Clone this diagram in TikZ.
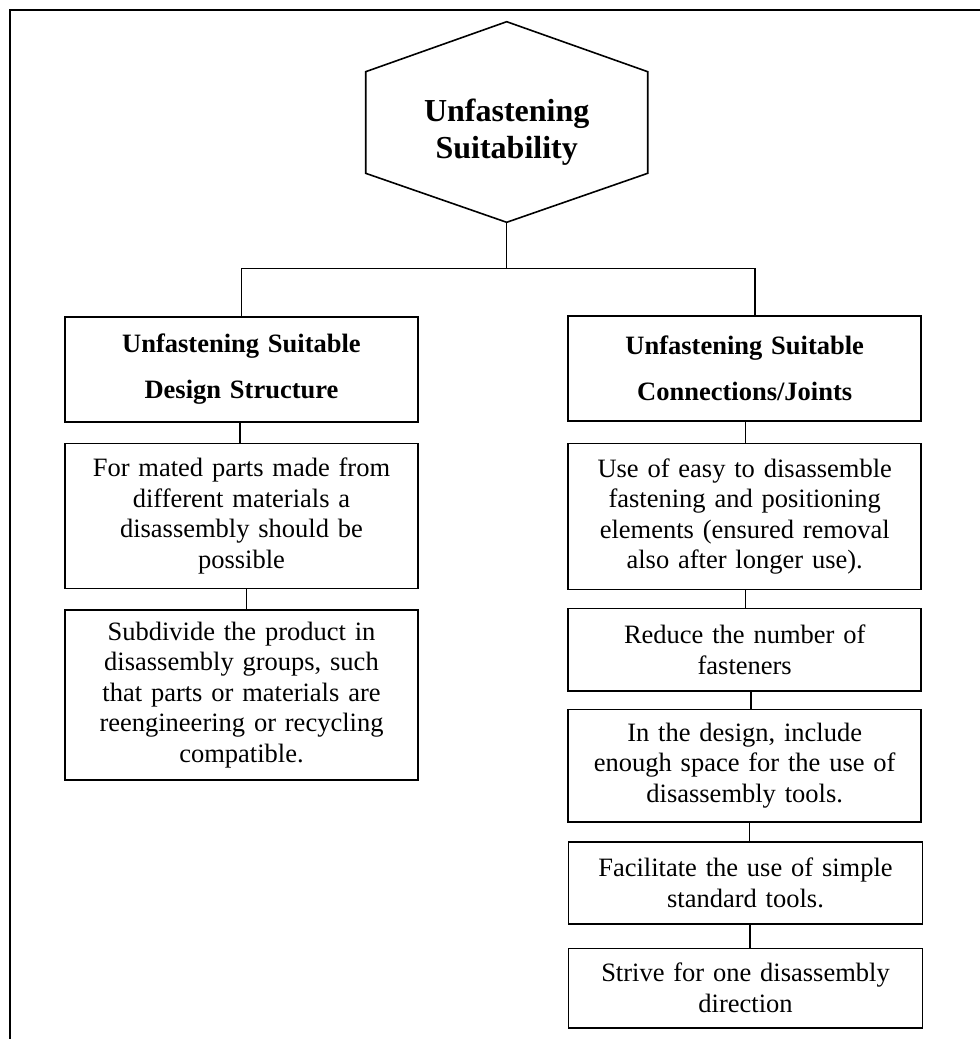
\documentclass[tikz,border=0pt]{standalone}
\usepackage{fontspec}
\setmainfont{Liberation Serif}
\begin{document}
\begin{tikzpicture}[x=1pt,y=-1pt,
  frame/.style={line width=2pt},
  boxn/.style={draw,line width=1.6pt,inner sep=0pt,minimum width=353pt,text width=340pt,align=center,
     font=\fontsize{26.5}{30.5}\selectfont},
  titlen/.style={boxn,font=\fontsize{26.5}{46.7}\selectfont\bfseries},
  conn/.style={line width=1.3pt}]
\useasboundingbox (0,0) rectangle (980,1039);
\clip (0,0) rectangle (980,1039);
\draw[frame] (9.5,1060) -- (9.5,9.5) -- (1000,9.5);
% hexagon
\coordinate (h1) at (506.7,21.7);
\coordinate (h2) at (647.7,71.7);
\coordinate (h3) at (647.7,173.3);
\coordinate (h4) at (506.7,222.3);
\coordinate (h5) at (365.7,173.3);
\coordinate (h6) at (365.7,71.7);
\draw[line width=1.6pt,line join=miter] (h1) -- (h2) -- (h3) -- (h4) -- (h5) -- (h6) -- cycle;
\node[align=center,font=\fontsize{32}{37}\selectfont\bfseries] (hex) at (506.7,132) {Unfastening\\Suitability};
% boxes
\node[titlen,minimum height=105pt] (L1) at (241.5,369.2) {Unfastening Suitable\\Design Structure};
\node[boxn,minimum height=145pt] (L2) at (241.5,515.8) {For mated parts made from\\different materials a\\disassembly should be\\possible};
\node[boxn,minimum height=170pt] (L3) at (241.5,695) {Subdivide the product in\\disassembly groups, such\\that parts or materials are\\reengineering or recycling\\compatible.};
\node[titlen,minimum height=105.3pt] (R1) at (744.7,368.4) {Unfastening Suitable\\Connections/Joints};
\node[boxn,minimum height=146pt] (R2) at (744.7,516.3) {Use of easy to disassemble\\fastening and positioning\\elements (ensured removal\\also after longer use).};
\node[boxn,minimum height=82.7pt] (R3) at (744.7,649.7) {Reduce the number of\\fasteners};
\node[boxn,minimum height=112.4pt] (R4) at (744.7,765.5) {In the design, include\\enough space for the use of\\disassembly tools.};
\node[boxn,minimum width=354pt,minimum height=82.3pt] (R5) at (745.5,882.9) {Facilitate the use of simple\\standard tools.};
\node[boxn,minimum width=354pt,minimum height=79.4pt] (R6) at (745.5,988) {Strive for one disassembly\\direction};
% connectors
\coordinate (bar) at (506.7,268.5);
\draw[conn] (h4) -- (bar);
\draw[conn] (L1.north -| 241.7,0) -- (241.7,268.5) -- (755,268.5) -- (R1.north -| 755,0);
\draw[conn] (L1.south -| 240,0) -- (L2.north -| 240,0);
\draw[conn] (L2.south -| 246.7,0) -- (L3.north -| 246.7,0);
\draw[conn] (R1.south -| 745.7,0) -- (R2.north -| 745.7,0);
\draw[conn] (R2.south -| 745.7,0) -- (R3.north -| 745.7,0);
\draw[conn] (R3.south -| 751,0) -- (R4.north -| 751,0);
\draw[conn] (R4.south -| 749.7,0) -- (R5.north -| 749.7,0);
\draw[conn] (R5.south -| 750,0) -- (R6.north -| 750,0);
\end{tikzpicture}
\end{document}
